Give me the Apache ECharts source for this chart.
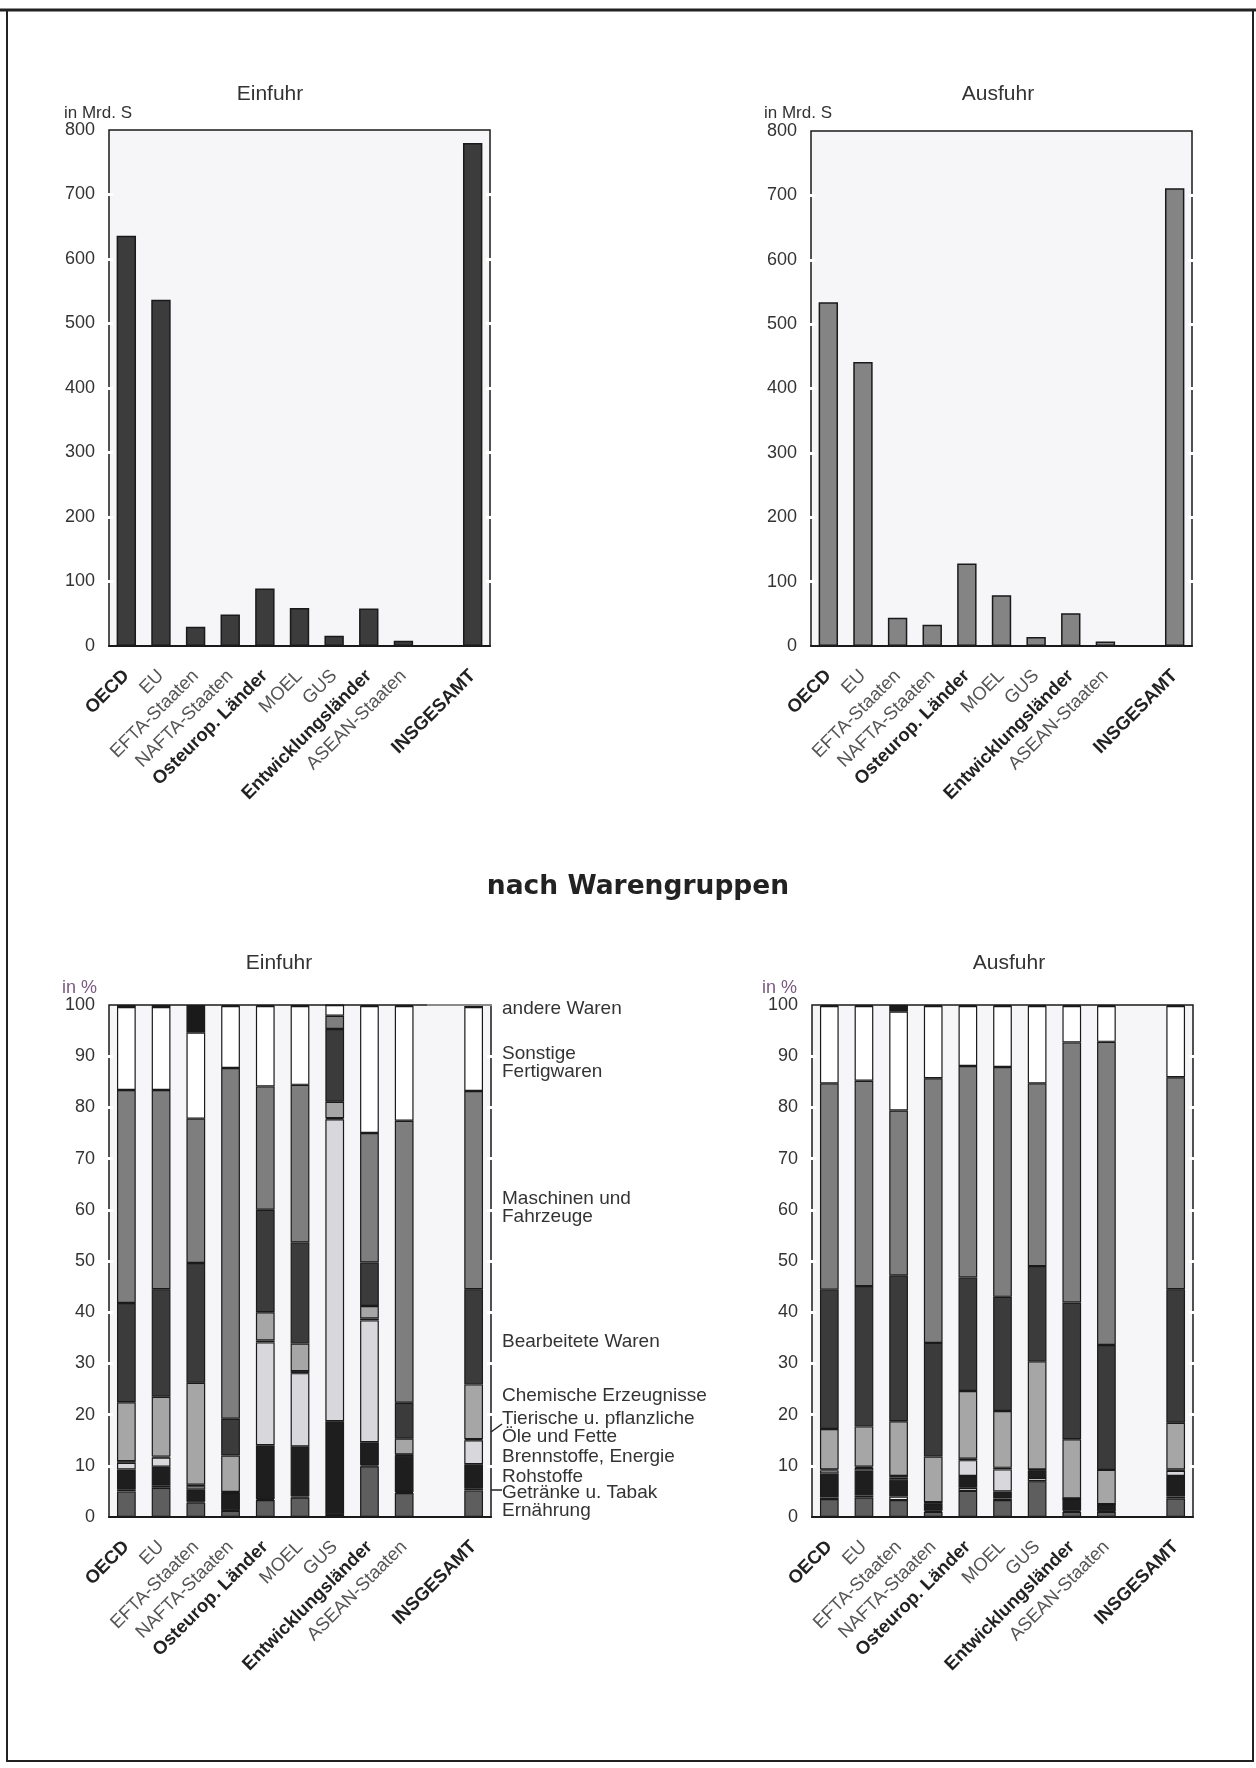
<!DOCTYPE html>
<html><head><meta charset="utf-8">
<script src="https://cdn.jsdelivr.net/npm/echarts@6/dist/echarts.min.js"></script>
<style>html,body{margin:0;padding:0;background:#fff}#c{width:1256px;height:1768px}</style>
</head><body><div id="c"></div>
<script>
// ---------- data ----------
const categories = ['OECD','EU','EFTA-Staaten','NAFTA-Staaten','Osteurop. Länder','MOEL','GUS','Entwicklungsländer','ASEAN-Staaten','','INSGESAMT'];
const boldCategories = ['OECD','Osteurop. Länder','Entwicklungsländer','INSGESAMT'];

// nach Regionen, in Mrd. S
const einfuhrMrdS = [636, 537, 30, 49, 89, 59, 16, 58, 8, null, 780];
const ausfuhrMrdS = [534, 441, 44, 33, 128, 79, 14, 51, 7, null, 711];
const mrdTicks = [0, 100, 200, 300, 400, 500, 600, 700, 800];
const pctTicks = [0, 10, 20, 30, 40, 50, 60, 70, 80, 90, 100];

// nach Warengruppen, in % (bottom -> top)
const warengruppen = ['Ernährung','Getränke u. Tabak','Rohstoffe','Brennstoffe, Energie','Tierische u. pflanzliche Öle und Fette','Chemische Erzeugnisse','Bearbeitete Waren','Maschinen und Fahrzeuge','Sonstige Fertigwaren','andere Waren'];

const einErnaehrung   = [5.0, 5.7, 2.8, 1.2, 3.3, 3.8, 0.4, 9.9, 4.7, null, 5.2];
const einGetraenke    = [0.3, 0.5, 0.2, 0.1, 0.2, 0.2, 0.1, 0.2, 0.2, null, 0.3];
const einRohstoffe    = [4.0, 3.6, 2.4, 3.4, 10.5, 9.8, 18.2, 4.5, 7.1, null, 4.8];
const einBrennstoffe  = [1.3, 1.8, 0.6, 0.1, 20.1, 14.3, 59.0, 23.8, 0.1, null, 4.7];
const einOele         = [0.3, 0.2, 0.3, 0.1, 0.4, 0.4, 0.2, 0.4, 0.1, null, 0.2];
const einChemische    = [11.5, 11.7, 19.9, 7.1, 5.5, 5.4, 3.2, 2.4, 3.1, null, 10.7];
const einBearbeitete  = [19.4, 21.0, 23.4, 7.2, 20.0, 19.7, 14.2, 8.5, 7.0, null, 18.6];
const einMaschinen    = [41.6, 38.9, 28.2, 68.5, 24.1, 30.8, 2.6, 25.3, 55.1, null, 38.7];
const einSonstige     = [16.2, 16.2, 16.8, 12.1, 15.7, 15.4, 2.1, 24.8, 22.4, null, 16.4];
const einAndere       = [0.4, 0.4, 5.4, 0.2, 0.2, 0.2, 0.0, 0.2, 0.2, null, 0.4];

const ausErnaehrung   = [3.5, 3.8, 3.3, 1.0, 5.1, 3.3, 7.0, 1.0, 1.0, null, 3.6];
const ausGetraenke    = [0.3, 0.4, 0.7, 0.2, 0.6, 0.3, 0.6, 0.2, 0.1, null, 0.4];
const ausRohstoffe    = [4.7, 4.9, 3.3, 1.5, 2.3, 1.4, 1.5, 2.3, 1.3, null, 4.0];
const ausBrennstoffe  = [0.6, 0.5, 0.4, 0.1, 3.1, 4.3, 0.1, 0.1, 0.1, null, 1.0];
const ausOele         = [0.2, 0.2, 0.3, 0.1, 0.3, 0.3, 0.1, 0.0, 0.0, null, 0.3];
const ausChemische    = [7.9, 7.9, 10.7, 8.9, 13.2, 11.1, 21.1, 11.6, 6.7, null, 9.1];
const ausBearbeitete  = [27.2, 27.4, 28.5, 22.2, 22.2, 22.3, 18.6, 26.7, 24.4, null, 26.1];
const ausMaschinen    = [40.3, 40.1, 32.2, 51.7, 41.3, 44.9, 35.7, 50.8, 59.2, null, 41.4];
const ausSonstige     = [15.1, 14.6, 19.3, 14.1, 11.7, 11.9, 15.1, 7.1, 7.0, null, 13.9];
const ausAndere       = [0.2, 0.2, 1.3, 0.2, 0.2, 0.2, 0.2, 0.2, 0.2, null, 0.2];

const legendLabels = [
  {text:'andere Waren', y:1009},
  {text:'Sonstige\nFertigwaren', y:1063},
  {text:'Maschinen und\nFahrzeuge', y:1208},
  {text:'Bearbeitete Waren', y:1342},
  {text:'Chemische Erzeugnisse', y:1396},
  {text:'Tierische u. pflanzliche\nÖle und Fette', y:1428},
  {text:'Brennstoffe, Energie', y:1457},
  {text:'Rohstoffe', y:1477},
  {text:'Getränke u. Tabak', y:1493},
  {text:'Ernährung', y:1511}
];

// ---------- styling ----------
const FF = '"Liberation Sans", Arial, Helvetica, sans-serif';
const stackColors = ['#5e5e5e','#f2f2f2','#1e1e1e','#d8d8dc','#2c2c2c','#a6a6a6','#3b3b3b','#7e7e7e','#ffffff','#1a1a1a'];
const PLOT_BG = '#f6f6f8';

const grids = [
  {left:109, top:130, width:381, height:516},
  {left:811, top:131, width:381, height:515},
  {left:109, top:1005, width:382, height:512},
  {left:812, top:1005, width:381, height:512}
].map(g => Object.assign(g, {show:true, backgroundColor:PLOT_BG, borderColor:'#1a1a1a', borderWidth:1.5, containLabel:false, outerBoundsMode:'none', z:0}));

function xAx(gi){
  return {
    type:'category', gridIndex:gi, data:categories,
    axisLine:{show:true, lineStyle:{color:'#1a1a1a', width:2}},
    axisTick:{show:false},
    axisLabel:{
      interval:0, rotate:45, margin:27,
      formatter: v => v === '' ? '' : (boldCategories.includes(v) ? '{b|' + v + '}' : '{n|' + v + '}'),
      rich:{
        b:{fontFamily:FF, fontSize:18.5, fontWeight:'bold', color:'#222'},
        n:{fontFamily:FF, fontSize:18.5, color:'#555'}
      }
    },
    splitLine:{show:false}
  };
}
function yAx(gi, max, interval, gapTicks, side, showLabel){
  return {
    type:'value', gridIndex:gi, min:0, max:max, interval:interval,
    position:side, offset:-4, z:5,
    axisLine:{show:false},
    splitLine:{show:false},
    axisTick:{show:true, inside:false, length:8, customValues:gapTicks, lineStyle:{color:'#ffffff', width:3}},
    axisLabel:{show:showLabel, margin:18, fontFamily:FF, fontSize:18, color:'#333'}
  };
}
const mrdGaps = mrdTicks.slice(1, -1);
const pctGaps = pctTicks.slice(1, -1);

const einStack = [einErnaehrung, einGetraenke, einRohstoffe, einBrennstoffe, einOele, einChemische, einBearbeitete, einMaschinen, einSonstige, einAndere];
const ausStack = [ausErnaehrung, ausGetraenke, ausRohstoffe, ausBrennstoffe, ausOele, ausChemische, ausBearbeitete, ausMaschinen, ausSonstige, ausAndere];

function stackSeries(stackName, arrays, xi, yi){
  return arrays.map((arr, i) => ({
    name: warengruppen[i], type:'bar', stack:stackName, xAxisIndex:xi, yAxisIndex:yi,
    data: arr, barWidth:'54%',
    itemStyle:{color:stackColors[i], borderColor:'#1a1a1a', borderWidth:1.2}
  }));
}

function txt(text, x, y, opts){
  return {type:'text', x:x, y:y, z:50, silent:true,
    style:Object.assign({text:text, fontFamily:FF, fontSize:19, fill:'#333', align:'left', verticalAlign:'middle', lineHeight:20}, opts||{})};
}

const graphics = [
  {type:'rect', z:40, silent:true, shape:{x:7, y:10, width:1246, height:1751}, style:{fill:'none', stroke:'#222', lineWidth:2}},
  {type:'line', z:40, silent:true, shape:{x1:0, y1:10, x2:1256, y2:10}, style:{stroke:'#222', lineWidth:3}},
  {type:'line', z:41, silent:true, shape:{x1:427, y1:1005, x2:492, y2:1005}, style:{stroke:'#8a8a8a', lineWidth:2}},
  txt('Einfuhr', 270, 94, {align:'center', fontSize:21}),
  txt('Ausfuhr', 998, 94, {align:'center', fontSize:21}),
  txt('in Mrd. S', 64, 113, {fontSize:17}),
  txt('in Mrd. S', 764, 113, {fontSize:17}),
  txt('nach Warengruppen', 638, 887, {align:'center', fontSize:26.5, fontWeight:'bold', fill:'#222', fontFamily:'"DejaVu Sans", sans-serif'}),
  txt('Einfuhr', 279, 963, {align:'center', fontSize:21}),
  txt('Ausfuhr', 1009, 963, {align:'center', fontSize:21}),
  txt('in %', 62, 988, {fontSize:18, fill:'#7a5a80'}),
  txt('in %', 762, 988, {fontSize:18, fill:'#7a5a80'}),
  {type:'line', z:40, silent:true, shape:{x1:491, y1:1432, x2:502, y2:1424}, style:{stroke:'#222', lineWidth:1.5}},
  {type:'line', z:40, silent:true, shape:{x1:491, y1:1490, x2:502, y2:1490}, style:{stroke:'#222', lineWidth:1.5}}
];
legendLabels.forEach(l => graphics.push(txt(l.text, 502, l.y, {lineHeight: 18})));

const option = {
  animation:false,
  backgroundColor:'#ffffff',
  grid: grids,
  xAxis: [xAx(0), xAx(1), xAx(2), xAx(3)],
  yAxis: [
    yAx(0, 800, 100, mrdGaps, 'left', true),  yAx(0, 800, 100, mrdGaps, 'right', false),
    yAx(1, 800, 100, mrdGaps, 'left', true),  yAx(1, 800, 100, mrdGaps, 'right', false),
    yAx(2, 100, 10, pctGaps, 'left', true),   yAx(2, 100, 10, pctGaps, 'right', false),
    yAx(3, 100, 10, pctGaps, 'left', true),   yAx(3, 100, 10, pctGaps, 'right', false)
  ],
  series: [
    {name:'Einfuhr', type:'bar', xAxisIndex:0, yAxisIndex:0, data:einfuhrMrdS, barWidth:'56%',
     itemStyle:{color:'#3c3c3c', borderColor:'#1a1a1a', borderWidth:1.5}},
    {name:'Ausfuhr', type:'bar', xAxisIndex:1, yAxisIndex:2, data:ausfuhrMrdS, barWidth:'56%',
     itemStyle:{color:'#848484', borderColor:'#1a1a1a', borderWidth:1.5}}
  ].concat(stackSeries('ein', einStack, 2, 4), stackSeries('aus', ausStack, 3, 6)),
  graphic: graphics
};

const chart = echarts.init(document.getElementById('c'), null, {renderer:'canvas'});
chart.setOption(option);
</script>
</body></html>
